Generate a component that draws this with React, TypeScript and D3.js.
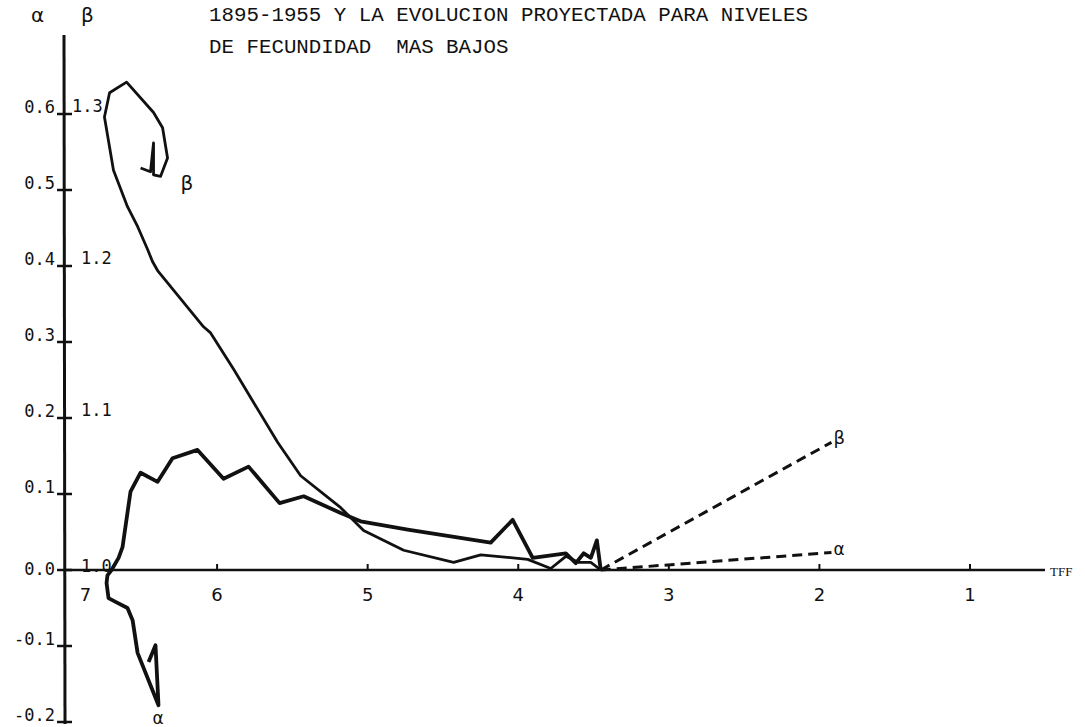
import React from "react";
import * as d3 from "d3";

// ---- data (TFF on x; alpha on left scale, beta on right scale) ----
const titleLines = [
  "1895-1955 Y LA EVOLUCION PROYECTADA PARA NIVELES",
  "DE FECUNDIDAD  MAS BAJOS",
];

const alphaTFF = [6.455, 6.409, 6.389, 6.528, 6.561, 6.595, 6.674, 6.721, 6.734, 6.728, 6.701, 6.654, 6.628, 6.575, 6.508, 6.395, 6.296, 6.13, 5.957, 5.791, 5.585, 5.425, 5.179, 5.047, 4.734, 4.183, 4.037, 3.904, 3.684, 3.618, 3.565, 3.518, 3.478, 3.452];
const alphaVals = [-0.121, -0.099, -0.178, -0.109, -0.066, -0.05, -0.042, -0.037, -0.017, -0.007, 0.0, 0.016, 0.03, 0.103, 0.128, 0.116, 0.147, 0.158, 0.12, 0.136, 0.088, 0.097, 0.075, 0.064, 0.053, 0.036, 0.066, 0.016, 0.022, 0.009, 0.022, 0.016, 0.039, 0.0];

const betaTFF = [6.508, 6.442, 6.422, 6.422, 6.375, 6.329, 6.362, 6.422, 6.601, 6.714, 6.748, 6.688, 6.595, 6.528, 6.462, 6.429, 6.395, 6.09, 6.043, 5.89, 5.598, 5.445, 5.179, 5.027, 4.761, 4.429, 4.249, 3.937, 3.784, 3.684, 3.598, 3.518, 3.452];
const betaVals = [1.2645, 1.262, 1.281, 1.26, 1.259, 1.271, 1.291, 1.301, 1.321, 1.314, 1.298, 1.263, 1.239, 1.226, 1.211, 1.203, 1.197, 1.16, 1.156, 1.132, 1.084, 1.062, 1.041, 1.026, 1.013, 1.005, 1.01, 1.007, 1.001, 1.009, 1.005, 1.005, 1.0];

const projTFF = [3.452, 1.92];
const projAlpha = [0.0, 0.023];
const projBeta = [1.0, 1.084];

const xTicks = [7, 6, 5, 4, 3, 2, 1];
const alphaTicks = [0.6, 0.5, 0.4, 0.3, 0.2, 0.1, 0.0, -0.1, -0.2];
const alphaTickLabels = ["0.6", "0.5", "0.4", "0.3", "0.2", "0.1", "0.0", "-0.1", "-0.2"];
const betaTicks = [1.3, 1.2, 1.1, 1.0];
const betaTickLabels = ["1.3", "1.2", "1.1", "1.0"];

export default function App() {
  const W = 1085;
  const H = 727;
  const x = d3.scaleLinear().domain([7, 1]).range([66.5, 970]);
  const yA = d3.scaleLinear().domain([0, 0.6]).range([570, 114]);
  const yB = d3.scaleLinear().domain([1.0, 1.3]).range([570, 114]);

  const axisX = x(7) - 2.5;
  const axisY = yA(0);

  const lineA = d3
    .line<number>()
    .x((_, i) => x(alphaTFF[i]))
    .y((d) => yA(d));
  const lineB = d3
    .line<number>()
    .x((_, i) => x(betaTFF[i]))
    .y((d) => yB(d));
  const projA = d3
    .line<number>()
    .x((_, i) => x(projTFF[i]))
    .y((d) => yA(d));
  const projB = d3
    .line<number>()
    .x((_, i) => x(projTFF[i]))
    .y((d) => yB(d));

  const ink = "#111";
  const tickFont = "'DejaVu Sans Mono', monospace";

  return (
    <svg
      width={W}
      height={H}
      style={{ position: "absolute", left: 0, top: 0, background: "#fff" }}
    >
      <rect x={0} y={0} width={W} height={H} fill="#fff" />
      {/* title */}
      {titleLines.map((t, i) => (
        <text
          key={i}
          x={209}
          y={21 + i * 32}
          fontFamily="'Liberation Mono', monospace"
          fontSize={20.8}
          fill={ink}
          style={{ whiteSpace: "pre" }}
        >
          {t}
        </text>
      ))}
      {/* axis headers */}
      <text x={31} y={22} fontFamily="'DejaVu Sans', sans-serif" fontSize={20} fill={ink}>
        α
      </text>
      <text x={81} y={22} fontFamily="'DejaVu Sans', sans-serif" fontSize={20} fill={ink}>
        β
      </text>

      {/* y axis */}
      <line x1={axisX} x2={axisX + 1} y1={35} y2={724} stroke={ink} strokeWidth={3} />
      {alphaTicks.map((t, i) => (
        <g key={"a" + i}>
          <line x1={axisX - 7} x2={axisX + 8} y1={yA(t)} y2={yA(t)} stroke={ink} strokeWidth={2.5} />
          <text
            x={axisX - 9}
            y={yA(t) + (t === 0 ? 5 : -1)}
            textAnchor="end"
            fontFamily={tickFont}
            fontSize={17}
            fill={ink}
          >
            {alphaTickLabels[i]}
          </text>
        </g>
      ))}
      {betaTicks.map((t, i) => (
        <text
          key={"b" + i}
          x={axisX + (t === 1.3 ? 8 : 17)}
          y={yB(t) + (t === 1.0 ? 2 : -2)}
          fontFamily={tickFont}
          fontSize={17}
          fill={ink}
        >
          {betaTickLabels[i]}
        </text>
      ))}

      {/* x axis */}
      <line x1={axisX} x2={1045} y1={axisY} y2={axisY} stroke={ink} strokeWidth={2.5} />
      {xTicks.map((t) => (
        <g key={"x" + t}>
          {t !== 7 && (
            <line x1={x(t)} x2={x(t)} y1={axisY} y2={axisY - 6} stroke={ink} strokeWidth={2} />
          )}
          <text
            x={x(t) + (t === 7 ? 19 : 0)}
            y={axisY + 31}
            textAnchor="middle"
            fontFamily="'DejaVu Sans', sans-serif"
            fontSize={18}
            fill={ink}
          >
            {t}
          </text>
        </g>
      ))}
      <text x={1050} y={576} fontFamily="'Liberation Serif', serif" fontSize={13} fill={ink}>
        TFF
      </text>

      {/* curves */}
      <path d={lineB(betaVals) || ""} fill="none" stroke={ink} strokeWidth={2.8} strokeLinejoin="round" />
      <path d={lineA(alphaVals) || ""} fill="none" stroke={ink} strokeWidth={3.8} strokeLinejoin="round" />
      <path d={projB(projBeta) || ""} fill="none" stroke={ink} strokeWidth={3} strokeDasharray="10 6" />
      <path d={projA(projAlpha) || ""} fill="none" stroke={ink} strokeWidth={3} strokeDasharray="10 6" />

      {/* curve labels */}
      <text x={x(betaTFF[0]) + 40} y={yB(betaVals[0]) + 22} fontFamily="'DejaVu Sans', sans-serif" fontSize={20} fill={ink}>
        β
      </text>
      <text x={x(alphaTFF[2]) - 6} y={yA(alphaVals[2]) + 19} fontFamily="'DejaVu Sans', sans-serif" fontSize={17} fill={ink}>
        α
      </text>
      <text x={x(projTFF[1]) + 2} y={yB(projBeta[1]) + 2} fontFamily="'DejaVu Sans', sans-serif" fontSize={18} fill={ink}>
        β
      </text>
      <text x={x(projTFF[1]) + 2} y={yA(projAlpha[1]) + 2} fontFamily="'DejaVu Sans', sans-serif" fontSize={17} fill={ink}>
        α
      </text>
    </svg>
  );
}
